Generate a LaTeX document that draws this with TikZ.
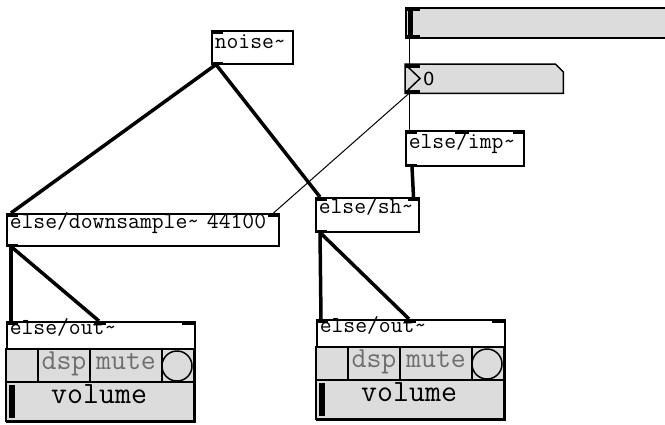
\documentclass[tikz,border=0pt]{standalone}
\usepackage{fontspec}
\newfontfamily\numfont{DejaVu Sans}

\definecolor{pdgray}{RGB}{220,220,220}
\definecolor{pdlabel}{RGB}{110,110,110}

\tikzset{
  obj/.style={draw, line width=1.5pt, fill=white, anchor=north west,
    inner xsep=3pt, inner ysep=0pt, align=left,
    font=\fontsize{23}{23}\selectfont\ttfamily},
  gui/.style={draw, line width=1.5pt, fill=pdgray, anchor=north west,
    inner sep=0pt},
  sig/.style={line width=3.5pt},
  ctl/.style={line width=1pt},
}

\begin{document}
\begin{tikzpicture}[x=1pt, y=-1pt]
  \useasboundingbox (0,0) rectangle (665,424);

  % slider and number box
  \node[gui, minimum width=265pt, minimum height=30pt] (hsl) at (405,7) {};
  \node[minimum width=158pt, minimum height=29pt, anchor=north west,
    inner sep=0pt] (num) at (405,64) {};

  \draw[fill=pdgray, line width=1.5pt] (num.north west)
    -- ([xshift=-8pt]num.north east) -- ([yshift=-8pt]num.north east)
    -- (num.south east) -- (num.south west) -- cycle;
  \draw[line width=1.5pt] (408,67) -- (420,78.5) -- (408,90);
  \node[anchor=base west, inner sep=0pt, font=\numfont\fontsize{18}{18}\selectfont]
    (numval) at (423,85) {0};
  \fill (408,9) rectangle (413,35);
  \foreach \g in {hsl, num} {
    \fill (\g.north west) rectangle ++(15,3.5);
    \fill (\g.south west) rectangle ++(15,-3.5);
  }

  % objects
  \node[obj, text width=75pt, text height=18pt, text depth=15pt] (noise)
    at (211,30) {noise\textasciitilde};
  \node[obj, text width=266pt, text height=15pt, text depth=17pt] (down)
    at (6,213) {else/downsample\textasciitilde{} 44100};
  \node[obj, text width=97pt, text height=16pt, text depth=18pt] (sh)
    at (315,197) {else/sh\textasciitilde};
  \node[obj, text width=112pt, text height=18pt, text depth=17pt] (imp)
    at (405,130) {else/imp\textasciitilde};

  \foreach \b in {noise, down, sh, imp} {
    \fill (\b.north west) rectangle ++(12,3.5);
    \fill (\b.south west) rectangle ++(12,-3);
  }
  \foreach \b in {down, sh, imp}
    \fill (\b.north east) rectangle ++(-12,3.5);
  \fill ([xshift=50pt]imp.north west) rectangle ++(14,3.5);

  % else/out~ with its panel
  \foreach \nm/\ox/\oy in {outL/6/321, outR/316/319} {
    \begin{scope}[shift={(\ox,\oy)}]
      \node[obj, text width=182pt, text height=13pt, text depth=87pt] (\nm)
        at (0,0) {else/out\textasciitilde};
      \filldraw[fill=pdgray, line width=1.5pt] (0,28) rectangle (188,61);
      \filldraw[fill=pdgray, line width=1.5pt] (0,61) rectangle (188,100);
      \draw[line width=1.5pt] (32,28) -- (32,61) (84,28) -- (84,61)
        (156,28) -- (156,61);
      \draw[line width=1.5pt] (171,45) circle (15pt);
      \node[anchor=base, inner sep=0pt, text=pdlabel,
        font=\fontsize{29}{29}\selectfont\ttfamily] (\nm-dsp) at (58,48) {dsp};
      \node[anchor=base, inner sep=0pt, text=pdlabel,
        font=\fontsize{29}{29}\selectfont\ttfamily] (\nm-mute) at (120,48) {mute};
      \fill (3,64) rectangle (9,97);
      \node[anchor=base west, inner sep=0pt,
        font=\fontsize{31}{31}\selectfont\ttfamily] (\nm-vol) at (45,82) {volume};
      \fill (0,0) rectangle (12,4);
      \fill (88,0) rectangle (100,4);
      \fill (176,0) rectangle (188,4);
    \end{scope}
  }

  % control cords
  \draw[ctl] ([xshift=4pt]hsl.south west) -- ([xshift=4pt]num.north west);
  \draw[ctl] ([xshift=4pt]num.south west) -- ([xshift=-6pt]down.north east);
  \draw[ctl] ([xshift=4pt]num.south west) -- ([xshift=4pt]imp.north west);

  % signal cords
  \draw[sig] ([xshift=5pt]noise.south west) -- ([xshift=5pt]down.north west);
  \draw[sig] ([xshift=5pt]noise.south west) -- ([xshift=5pt]sh.north west);
  \draw[sig] ([xshift=7pt]imp.south west) -- ([xshift=-6pt]sh.north east);
  \draw[sig] ([xshift=5pt]down.south west) -- ([xshift=5pt]outL.north west);
  \draw[sig] ([xshift=5pt]down.south west) -- ([xshift=93pt]outL.north west);
  \draw[sig] ([xshift=5pt]sh.south west) -- ([xshift=5pt]outR.north west);
  \draw[sig] ([xshift=5pt]sh.south west) -- ([xshift=93pt]outR.north west);
\end{tikzpicture}
\end{document}
